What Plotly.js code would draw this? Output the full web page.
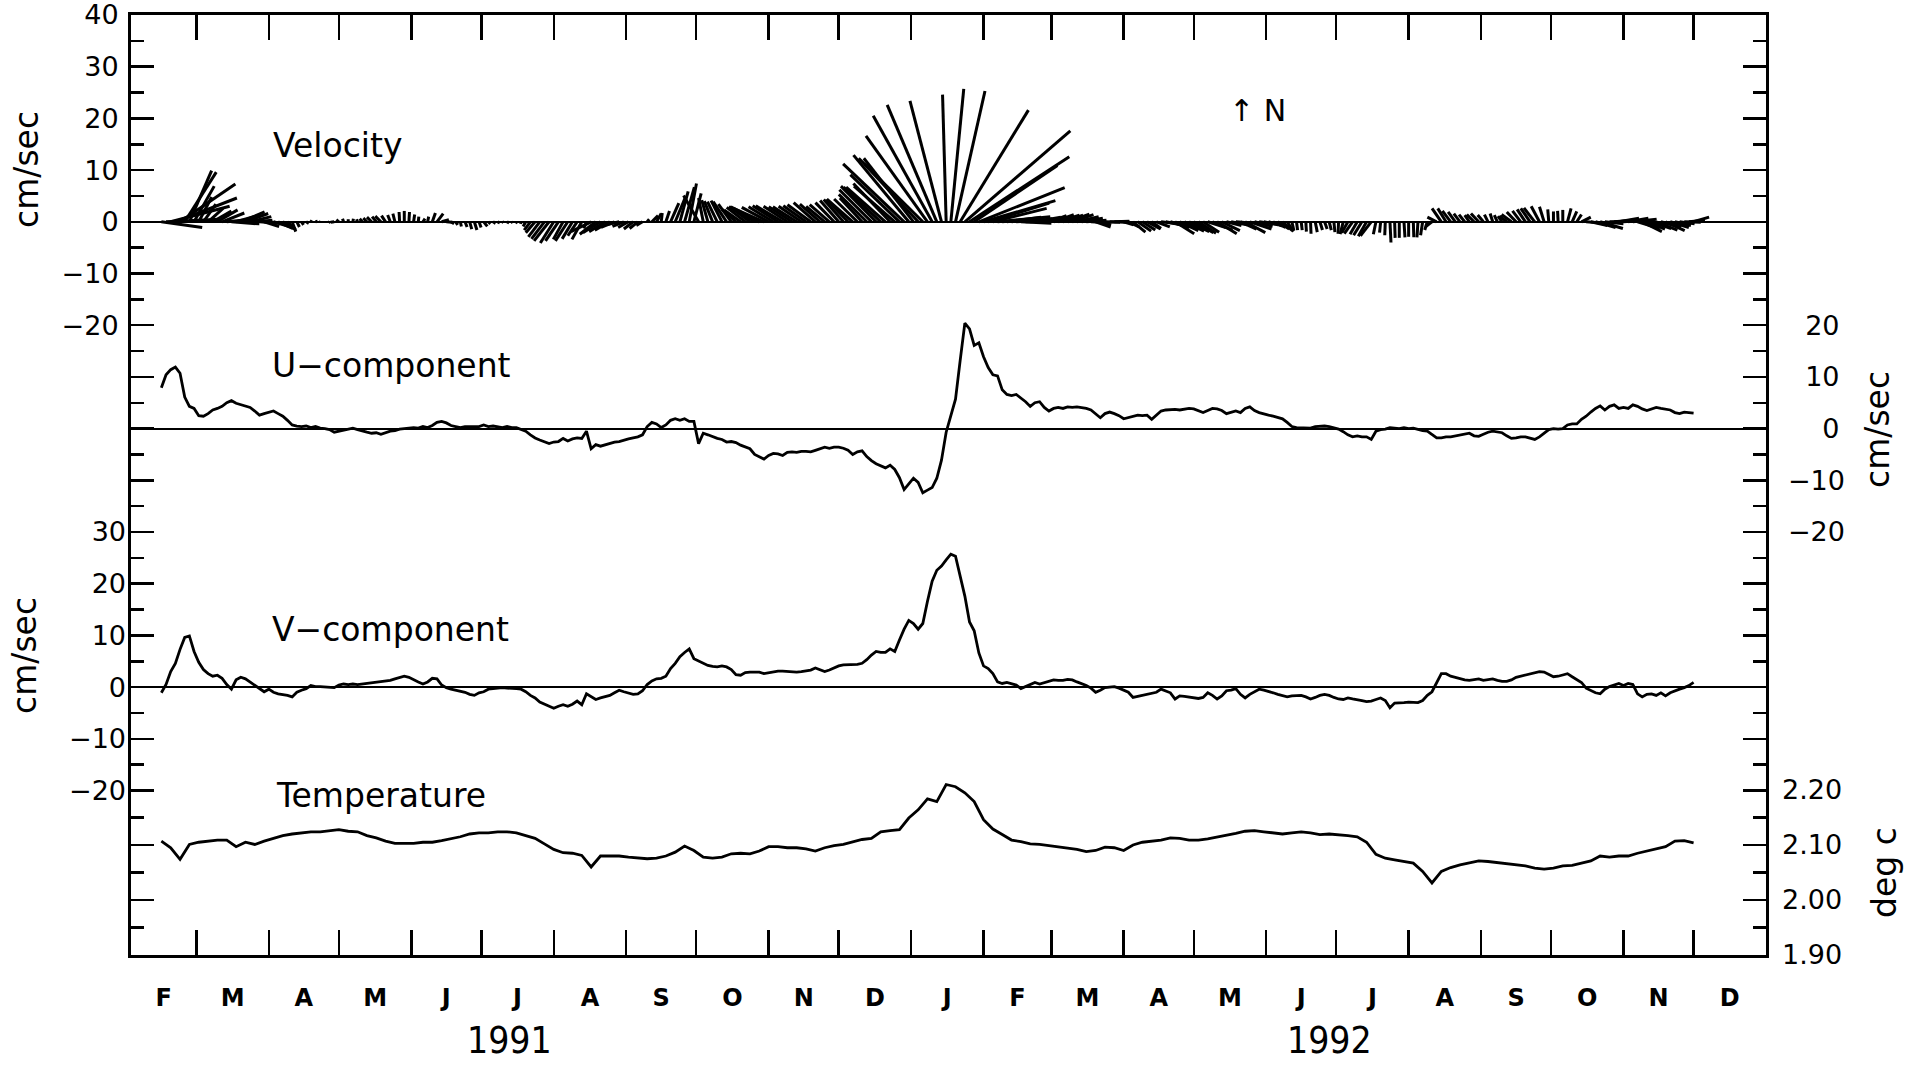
<!DOCTYPE html>
<html>
<head>
<meta charset="utf-8">
<script src="https://cdn.plot.ly/plotly-3.0.1.min.js"></script>
<style>
html,body{margin:0;padding:0;background:#fff;}
#chart{width:1906px;height:1065px;}
</style>
</head>
<body>
<div id="chart"></div>
<script>
// ---------------- data ----------------
const START_DATE = '1991-02-01';
const END_DATE = '1993-01-01';
const monthLetters = ['F','M','A','M','J','J','A','S','O','N','D','J','F','M','A','M','J','J','A','S','O','N','D'];
const yearLabels = ['1991', '1992'];
const yearLabelDates = ['1991-07-13', '1992-06-28'];

// U / V components (cm/sec), sampled every 2 days starting 13 days after START_DATE
const uvFirstDay = 13;
const uvStepDays = 2;
const uComponent = [
  7.9,10.4,11.4,11.9,10.7,6.1,4.3,3.9,2.5,2.4,
  2.9,3.6,3.9,4.3,5.0,5.4,4.9,4.6,4.4,4.1,
  3.4,2.6,2.9,3.2,3.4,2.9,2.4,1.6,0.7,0.5,
  0.4,0.5,0.2,0.4,0.1,0,-0.2,-0.7,-0.5,-0.2,
  0,0.1,-0.2,-0.5,-0.7,-0.9,-0.8,-1.1,-0.8,-0.5,
  -0.4,-0.1,0,0.1,0.2,0.1,0.4,0.2,0.6,1.2,
  1.4,1.1,0.6,0.4,0.2,0.4,0.4,0.5,0.4,0.7,
  0.4,0.5,0.4,0.2,0.4,0.2,0.2,-0.1,-0.5,-1.2,
  -1.8,-2.2,-2.5,-2.9,-2.6,-2.5,-1.9,-2.4,-2.0,-1.8,
  -1.9,-0.5,-3.9,-3.1,-3.4,-3.1,-2.9,-2.6,-2.5,-2.2,
  -2.0,-1.8,-1.6,-1.2,0.4,1.2,0.9,0.2,0.7,1.6,
  1.9,1.6,1.9,1.4,
  1.4,-2.9,-0.9,-1.2,-1.6,-1.9,-2.1,-2.6,-2.5,-2.7,
  -3.2,-3.6,-3.9,-5.0,-5.5,-5.9,-5.2,-4.8,-4.9,-5.2,
  -4.6,-4.5,-4.6,-4.4,-4.4,-4.5,-4.2,-3.9,-3.6,-3.8,
  -3.6,-3.6,-3.8,-4.2,-5.0,-4.5,-4.3,-5.4,-6.2,-6.8,
  -7.2,-7.6,-7.1,-7.9,-9.5,-11.8,-10.7,-9.6,-10.4,-12.4,
  -11.9,-11.4,-9.6,-6.1,-0.7,2.5,5.7,13.2,20.4,19.3,
  16.1,16.6,13.9,11.8,10.4,10.2,7.5,6.6,6.4,6.6,
  5.9,5.2,4.3,5.0,5.2,4.1,3.4,3.9,4.1,3.9,
  4.2,4.1,4.2,4.1,3.9,3.6,2.9,2.1,2.9,3.2,
  2.9,2.5,1.9,2.1,2.4,2.6,2.5,2.6,1.8,2.6,
  3.4,3.6,3.7,3.7,3.6,3.8,3.9,3.8,3.4,3.1,
  3.5,3.9,3.8,3.5,2.9,3.1,3.4,
  3.1,3.9,4.2,3.5,3.1,2.8,2.6,2.4,2.2,1.9,
  1.2,0.4,0.2,0.2,0.1,0.1,0.4,0.5,0.5,0.4,
  0.2,-0.1,-0.6,-1.2,-1.6,-1.4,-1.6,-1.6,-2.1,-0.5,
  -0.2,-0.1,0.2,0.1,0,0.2,0,0.1,-0.2,-0.4,
  -0.5,-1.2,-1.8,-1.8,-1.6,-1.6,-1.4,-1.2,-1.1,-0.9,
  -1.4,-1.5,-1.1,-0.7,-0.5,-0.6,-0.8,-1.4,-1.9,-1.8,
  -1.6,-1.6,-1.8,-2.1,-1.6,-0.9,-0.2,0,-0.1,0,
  0.7,0.9,0.9,1.8,2.4,3.2,3.9,4.4,3.6,4.3,
  4.6,3.9,4.1,3.9,4.6,4.3,3.8,3.5,3.8,4.1,
  3.9,3.7,3.6,3.1,2.9,3.2,3.1,3.0
];
const vComponent = [
  -1.1,0.5,3.0,4.6,7.3,9.6,9.9,6.9,4.8,3.4,
  2.6,2.1,2.3,1.7,0.5,-0.4,1.4,1.9,1.6,1.0,
  0.3,-0.2,-0.9,-0.4,-1.0,-1.3,-1.4,-1.6,-1.9,-1.0,
  -0.6,-0.3,0.3,0.1,0.1,0,-0.1,-0.1,0.4,0.6,
  0.5,0.6,0.5,0.6,0.7,0.9,1.0,1.1,1.2,1.3,
  1.6,1.9,2.1,1.9,1.4,1.0,0.6,1.0,1.7,1.6,
  0.4,-0.1,-0.4,-0.6,-0.9,-1.0,-1.4,-1.6,-1.1,-0.9,
  -0.4,-0.3,-0.2,-0.1,-0.2,-0.2,-0.3,-0.4,-0.9,-1.6,
  -2.1,-2.9,-3.3,-3.7,-4.1,-3.7,-3.4,-3.7,-3.3,-2.7,
  -3.4,-1.3,-1.9,-2.4,-2.1,-1.9,-1.6,-1.1,-0.6,-0.9,
  -1.1,-1.4,-1.3,-0.7,0.5,1.2,1.6,1.7,2.1,3.6,
  4.6,5.9,6.7,7.4,
  5.5,5.1,4.6,4.2,4.0,3.9,4.1,3.9,3.4,2.4,
  2.3,2.8,2.9,2.9,2.9,2.6,2.8,2.9,3.1,3.1,
  3.0,2.9,2.9,3.0,3.1,3.3,3.7,3.4,3.0,3.3,
  3.7,4.1,4.3,4.3,4.4,4.4,4.6,5.3,6.2,6.9,
  6.7,6.7,7.4,6.9,9.1,11.2,12.9,12.3,11.2,12.3,
  16.6,20.5,22.6,23.4,24.6,25.7,25.3,21.6,17.6,12.6,
  10.9,6.6,4.1,3.6,2.6,1.0,0.7,0.9,0.7,0.4,
  -0.3,0.1,0.6,0.9,0.6,0.9,1.2,1.4,1.3,1.3,
  1.5,1.4,1.0,0.7,0.3,-0.2,-1.0,-0.6,-0.1,0,
  0.1,-0.2,-0.6,-1.0,-2.0,-1.8,-1.6,-1.4,-1.3,-1.0,
  -0.4,-0.7,-1.1,-2.3,-1.7,-1.8,-1.9,-2.1,-2.2,-2.0,
  -1.1,-1.6,-2.3,-1.7,-0.7,-0.6,-0.3,
  -1.4,-2.1,-1.4,-0.9,-0.4,-0.6,-0.8,-1.1,-1.4,-1.7,
  -1.9,-1.7,-1.6,-1.6,-1.9,-2.3,-2.0,-1.6,-1.4,-1.6,
  -2.0,-2.3,-2.4,-2.1,-2.3,-2.4,-2.6,-2.8,-2.7,-2.4,
  -2.1,-2.6,-4.0,-3.1,-3.1,-3.0,-2.9,-3.0,-3.0,-2.6,
  -1.6,-0.9,0.9,2.6,2.6,2.1,1.9,1.6,1.4,1.3,
  1.4,1.6,1.3,1.4,1.6,1.3,1.1,1.1,1.4,1.9,
  2.1,2.4,2.6,2.7,3.0,2.9,2.4,2.0,2.1,2.3,
  2.6,2.0,1.4,0.9,-0.2,-0.7,-1.1,-1.3,-0.4,0.1,
  0.4,0.7,0.3,0.7,0.5,-1.3,-1.9,-1.4,-1.3,-1.6,
  -1.1,-1.7,-1.1,-0.7,-0.4,-0.1,0.3,0.9
];

// Temperature (deg C), sampled every 4 days starting 13 days after START_DATE
const tFirstDay = 13;
const tStepDays = 4;
const temperature = [
  2.107,2.095,2.074,2.101,2.105,2.107,2.109,2.109,2.097,2.105,
  2.101,2.107,2.112,2.117,2.120,2.122,2.124,2.124,2.126,2.128,
  2.125,2.124,2.117,2.113,2.107,2.103,2.103,2.103,2.105,2.105,
  2.108,2.111,2.115,2.120,2.122,2.122,2.124,2.124,2.122,2.117,
  2.112,2.102,2.092,2.086,2.085,2.081,2.060,2.080,2.080,2.080,
  2.078,2.076,2.075,2.076,2.080,2.087,2.098,
  2.090,2.078,2.076,2.078,2.084,2.085,2.084,2.089,2.097,2.097,
  2.095,2.095,2.093,2.089,2.095,2.099,2.101,2.106,2.110,2.112,
  2.124,2.126,2.128,2.149,2.164,2.184,2.179,2.210,2.206,2.195,
  2.179,2.146,2.129,2.119,2.109,2.106,2.102,2.101,2.099,2.097,
  2.095,2.092,2.088,2.090,2.096,2.095,2.090,2.100,2.105,2.107,
  2.109,2.113,2.112,2.109,2.109,2.111,2.114,2.117,
  2.121,2.125,2.126,2.124,2.122,2.120,2.122,2.124,2.122,2.119,
  2.120,2.119,2.117,2.115,2.105,2.083,2.076,2.073,2.070,2.067,
  2.052,2.031,2.052,2.059,2.064,2.068,2.071,2.070,2.068,2.067,
  2.064,2.062,2.058,2.056,2.058,2.062,2.063,2.067,2.071,2.080,
  2.078,2.080,2.080,2.085,2.089,2.092,2.097,2.107,2.108,2.104
];

// axis tick values / labels
const velocityTicks = [40,30,20,10,0,-10,-20];
const velocityMinor = [35,25,15,5,-5,-15];
const uTicks = [20,10,0,-10,-20];
const uMinor = [15,5,-5,-15];
const vTicks = [30,20,10,0,-10,-20];
const vMinor = [25,15,5,-5,-15];
const tTicks = [2.2,2.1,2.0,1.9];
const tTickText = ['2.20','2.10','2.00','1.90'];
const tMinor = [2.15,2.05,1.95];
const panelNames = ['Velocity','U\u2212component','V\u2212component','Temperature'];
const unitVel = 'cm/sec';
const unitTemp = 'deg c';

// ---------------- geometry / styling ----------------
const FIG_W = 1906, FIG_H = 1065;
const M = {l:131, r:140, t:15, b:110};
const PLOT_W = FIG_W - M.l - M.r;      // 1635
const PLOT_H = FIG_H - M.t - M.b;      // 940
const PX_PER_CMS = 5.17;               // vertical pixels per cm/sec
const PX_PER_DEG = 550;                // vertical pixels per deg C
const U_OFFSET = 40;                   // U zero sits 40 cm/s below velocity zero
const V_OFFSET = 90;                   // V zero sits 90 cm/s below velocity zero
const T_BOTTOM = 1.90;

const MS_DAY = 86400000;
const t0 = Date.parse(START_DATE + 'T00:00:00Z');
const tEnd = Date.parse(END_DATE + 'T00:00:00Z');
const spanDays = (tEnd - t0) / MS_DAY;
const pxPerDay = PLOT_W / spanDays;
const daysPerCms = PX_PER_CMS / pxPerDay;   // stick plot: equal scaling of both components

const velTop = 40;
const velBottom = velTop - PLOT_H / PX_PER_CMS;
const uRange = [velBottom + U_OFFSET, velTop + U_OFFSET];
const vRange = [velBottom + V_OFFSET, velTop + V_OFFSET];
const tRange = [T_BOTTOM, T_BOTTOM + PLOT_H / PX_PER_DEG];

const FONT = 'DejaVu Sans, Liberation Sans, sans-serif';
const BLACK = '#000';
const fmtNum = v => (v < 0 ? '\u2212' + Math.abs(v) : String(v));
const padRight = (s, n) => { while (s.length < n) s = '\u2007' + s; return s; };

// ---------------- traces ----------------
const uvX = uComponent.map((_, i) => t0 + (uvFirstDay + i * uvStepDays) * MS_DAY);
const tX = temperature.map((_, i) => t0 + (tFirstDay + i * tStepDays) * MS_DAY);

const stickX = [], stickY = [];
uComponent.forEach((u, i) => {
  const base = uvX[i];
  stickX.push(base, base + u * daysPerCms * MS_DAY, null);
  stickY.push(0, vComponent[i], null);
});

const traces = [
  {x: stickX, y: stickY, xaxis:'x', yaxis:'y', mode:'lines', type:'scatter',
   line:{color:BLACK, width:3}, hoverinfo:'skip', showlegend:false},
  {x: uvX, y: uComponent, xaxis:'x', yaxis:'y2', mode:'lines', type:'scatter',
   line:{color:BLACK, width:2.8}, showlegend:false, name:'U'},
  {x: uvX, y: vComponent, xaxis:'x', yaxis:'y3', mode:'lines', type:'scatter',
   line:{color:BLACK, width:2.8}, showlegend:false, name:'V'},
  {x: tX, y: temperature, xaxis:'x', yaxis:'y4', mode:'lines', type:'scatter',
   line:{color:BLACK, width:2.8}, showlegend:false, name:'T'}
];

// month boundaries and mid-months
const monthStarts = [], monthMids = [];
for (let i = 0; i <= monthLetters.length; i++) {
  const d = new Date(t0); d.setUTCMonth(d.getUTCMonth() + i);
  monthStarts.push(d.getTime());
}
for (let i = 0; i < monthLetters.length; i++) monthMids.push((monthStarts[i] + monthStarts[i+1]) / 2);

const tickFont = {family: FONT, size: 27, color: BLACK};
function yAxis(extra) {
  return Object.assign({
    tickmode:'array', ticks:'inside', ticklen:23, tickwidth:2.5, tickcolor:BLACK,
    showgrid:false, zeroline:false, mirror:'ticks', showline:false,
    tickfont: tickFont, fixedrange:true, anchor:'x', ticklabeloverflow:'allow'
  }, extra);
}
function minor(vals) {
  return {tickmode:'array', tickvals: vals, ticks:'inside', ticklen:13, tickwidth:2.5, tickcolor:BLACK, showgrid:false};
}

const layout = {
  width: FIG_W, height: FIG_H,
  margin: M,
  paper_bgcolor:'#fff', plot_bgcolor:'#fff',
  showlegend:false,
  font:{family: FONT, color: BLACK},
  xaxis: {
    type:'date', range:[t0, tEnd], fixedrange:true,
    tickmode:'array', tickvals: monthMids, ticktext: monthLetters,
    ticks:'inside', ticklen:0, tickwidth:0,
    tickfont:{family:'DejaVu Sans, sans-serif', size:24, color:BLACK, weight:'bold'},
    ticklabelstandoff: 19,
    minor: {tickmode:'array', tickvals: monthStarts, ticks:'inside', ticklen:25, tickwidth:2.5, tickcolor:BLACK, showgrid:false},
    showline:true, linewidth:3, linecolor:BLACK, mirror:'ticks',
    showgrid:false, zeroline:false
  },
  yaxis: yAxis({
    range:[velBottom, velTop], side:'left',
    tickvals: velocityTicks, ticktext: velocityTicks.map(fmtNum),
    minor: minor(velocityMinor),
    showline:true, linewidth:3, linecolor:BLACK, mirror:'ticks',
    zeroline:true, zerolinecolor:BLACK, zerolinewidth:2,
    ticklabelstandoff: 4
  }),
  yaxis2: yAxis({
    range:uRange, side:'right', overlaying:'y',
    tickvals: uTicks, ticktext: uTicks.map(v => padRight(fmtNum(v), 3)),
    minor: minor(uMinor),
    zeroline:true, zerolinecolor:BLACK, zerolinewidth:2,
    ticklabelstandoff: 21
  }),
  yaxis3: yAxis({
    range:vRange, side:'left', overlaying:'y',
    tickvals: vTicks, ticktext: vTicks.map(fmtNum),
    minor: minor(vMinor),
    zeroline:true, zerolinecolor:BLACK, zerolinewidth:2,
    ticklabelstandoff: 4
  }),
  yaxis4: yAxis({
    range:tRange, side:'right', overlaying:'y',
    tickvals: tTicks, ticktext: tTickText,
    minor: minor(tMinor),
    ticklabelstandoff: 15
  }),
  annotations: []
};

const px2paperX = px => (px - M.l) / PLOT_W;
const px2paperY = py => (M.t + PLOT_H - py) / PLOT_H;
const labelFont = {family: FONT, size: 33, color: BLACK};
const panelLabelPos = [[271,145],[270,365],[270,629],[274,795]];
panelNames.forEach((name, i) => {
  layout.annotations.push({text:name, xref:'paper', yref:'paper',
    x: px2paperX(panelLabelPos[i][0]), y: px2paperY(panelLabelPos[i][1]),
    xanchor:'left', yanchor:'middle', showarrow:false, font: labelFont});
});
layout.annotations.push({text:'\u2191 N', xref:'paper', yref:'paper',
  x: px2paperX(1257), y: px2paperY(110), xanchor:'center', yanchor:'middle',
  showarrow:false, font:{family:FONT, size:30, color:BLACK}});
// axis unit titles
const unitFont = {family: FONT, size: 33, color: BLACK};
[[unitVel, 26, 170],[unitVel, 24, 656],[unitVel, 1877, 430],[unitTemp, 1884, 873]].forEach(([t, x, y]) => {
  layout.annotations.push({text:t, xref:'paper', yref:'paper', x:px2paperX(x), y:px2paperY(y),
    xanchor:'center', yanchor:'middle', textangle:-90, showarrow:false, font:unitFont});
});
// year labels
yearLabels.forEach((yl, i) => {
  layout.annotations.push({text:yl, xref:'x', yref:'paper', x: yearLabelDates[i], y: px2paperY(1040),
    xanchor:'center', yanchor:'middle', showarrow:false,
    font:{family:'Liberation Sans Narrow, DejaVu Sans Condensed, Liberation Sans, sans-serif', size:37, color:BLACK}});
});

Plotly.newPlot('chart', traces, layout, {displayModeBar:false, staticPlot:true});
</script>
</body>
</html>
